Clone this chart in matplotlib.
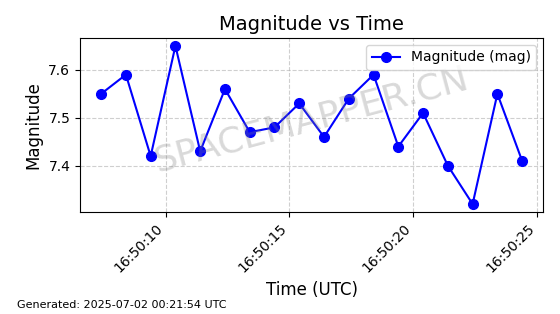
import datetime as dt

import matplotlib
matplotlib.use("Agg")
import matplotlib.dates as mdates
from matplotlib import pyplot as plt

# observation times (seconds after 16:50:00 UTC) and magnitudes
t0 = dt.datetime(2025, 7, 1, 16, 50, 0)
seconds = [7.4, 8.4, 9.4, 10.4, 11.4, 12.4, 13.4, 14.4, 15.4,
           16.4, 17.4, 18.4, 19.4, 20.4, 21.4, 22.4, 23.4, 24.4]
magnitudes = [7.55, 7.59, 7.42, 7.65, 7.43, 7.56, 7.47, 7.48, 7.53,
              7.46, 7.54, 7.59, 7.44, 7.51, 7.40, 7.32, 7.55, 7.41]
times = [t0 + dt.timedelta(seconds=s) for s in seconds]

fig, ax = plt.subplots(figsize=(5.6, 3.14), dpi=100)
fig.subplots_adjust(left=0.143, right=0.970, top=0.879, bottom=0.325)

ax.plot(times, magnitudes, "o-", color="blue", markersize=7, linewidth=1.5,
        label="Magnitude (mag)")

ax.set_title("Magnitude vs Time", fontsize=14)
ax.set_xlabel("Time (UTC)", fontsize=12)
ax.set_ylabel("Magnitude", fontsize=12)
ax.grid(True, linestyle="--", alpha=0.6)
ax.legend(loc="upper right")

ax.xaxis.set_major_locator(mdates.SecondLocator(bysecond=range(0, 60, 5)))
ax.xaxis.set_major_formatter(mdates.DateFormatter("%H:%M:%S"))
plt.setp(ax.get_xticklabels(), rotation=45, ha="right")

ax.text(0.5, 0.53, "SPACEMAPPER.CN", transform=ax.transAxes, fontsize=26,
        color="gray", alpha=0.3, rotation=15, ha="center", va="center")

fig.text(0.03, 0.02, "Generated: 2025-07-02 00:21:54 UTC", fontsize=8)

fig.savefig("out.png", dpi=100)
